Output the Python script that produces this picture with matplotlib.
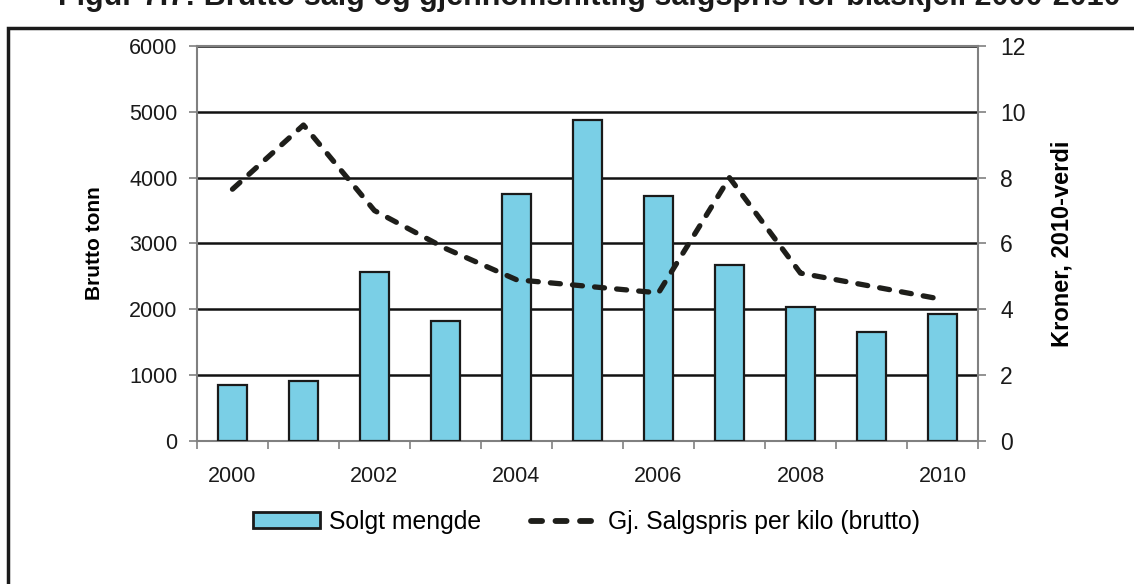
import matplotlib.pyplot as plt
import matplotlib.patches as mpatches
import numpy as np

plt.rcParams['font.family'] = ['Liberation Sans', 'DejaVu Sans']

# data
years = ['2000', '2001', '2002', '2003', '2004', '2005', '2006', '2007', '2008', '2009', '2010']
solgt_tonn = [850, 910, 2560, 1830, 3750, 4880, 3720, 2670, 2040, 1650, 1930]
pris_kilo = [7.65, 9.6, 7.0, 5.85, 4.9, 4.7, 4.5, 8.0, 5.1, 4.7, 4.3]

fig = plt.figure(figsize=(11.34, 5.84), dpi=100)

# outer frame and cut-off title
fig.patches.append(mpatches.Rectangle((8 / 1134, -0.05), 1.2, 1 - 28 / 584 + 0.05,
                                      transform=fig.transFigure, fill=False,
                                      edgecolor='#1a1a1a', linewidth=2.5))
fig.text(0.52, 1 - 5 / 584, 'Figur 7.7: Brutto salg og gjennomsnittlig salgspris for blåskjell 2000-2010',
         ha='center', va='baseline', fontsize=22, fontweight='bold', color='#1a1a1a')

ax = fig.add_axes([0.1737, 0.2449, 0.6887, 0.6763])
x = np.arange(len(years))

ax.bar(x, solgt_tonn, width=0.41, color='#7ACFE6', edgecolor='#1a1a1a',
       linewidth=1.6, zorder=3)
ax.set_ylim(0, 6000)
ax.set_yticks(range(0, 6001, 1000))
ax.set_xlim(-0.5, 10.5)
ax.set_xticks(x[::2])
ax.set_xticklabels(years[::2])
ax.set_xticks(np.arange(-0.5, 11, 1), minor=True)
ax.tick_params(labelsize=15.5)
ax.tick_params(axis='x', which='major', length=0, pad=18)
ax.tick_params(axis='x', which='minor', length=6, color='#808080', width=1.2)
ax.tick_params(axis='y', length=6, color='#808080', width=1.2, pad=8)
ax.tick_params(axis='x', colors='#808080', labelcolor='#1a1a1a')
ax.tick_params(axis='y', colors='#808080', labelcolor='#1a1a1a')
ax.grid(axis='y', color='#111111', linewidth=1.8, zorder=0)
ax.set_axisbelow(True)
for s in ax.spines.values():
    s.set_color('#808080')
    s.set_linewidth(1.5)
ax.set_ylabel('Brutto tonn', fontsize=15, fontweight='bold', labelpad=18)

# price line on the right axis
dash = (0, (1.9, 2.3))
ax2 = ax.twinx()
ax2.plot(x, pris_kilo, color='#1e1e1a', linewidth=3.8, linestyle=dash,
         dash_capstyle='round', zorder=4)
ax2.set_ylim(0, 12)
ax2.set_yticks(range(0, 13, 2))
ax2.tick_params(axis='y', length=6, color='#808080', width=1.2, pad=10,
                labelsize=16.5, labelcolor='#1a1a1a')
for s in ax2.spines.values():
    s.set_visible(False)
ax2.set_ylabel('Kroner, 2010-verdi', fontsize=17, fontweight='bold', labelpad=18)

# legend
h1 = mpatches.Patch(facecolor='#7ACFE6', edgecolor='#1a1a1a', linewidth=2)
h2 = plt.Line2D([], [], color='#1e1e1a', linewidth=4.2, linestyle=dash,
                dash_capstyle='round')
fig.legend([h1, h2], ['Solgt mengde', 'Gj. Salgspris per kilo (brutto)'],
           loc='center', bbox_to_anchor=(0.517, 1 - 522 / 584), ncol=2, frameon=False,
           fontsize=17.8, handlelength=2.7, handleheight=0.6, columnspacing=2.0,
           handletextpad=0.4)

fig.savefig('out.png', dpi=100)
